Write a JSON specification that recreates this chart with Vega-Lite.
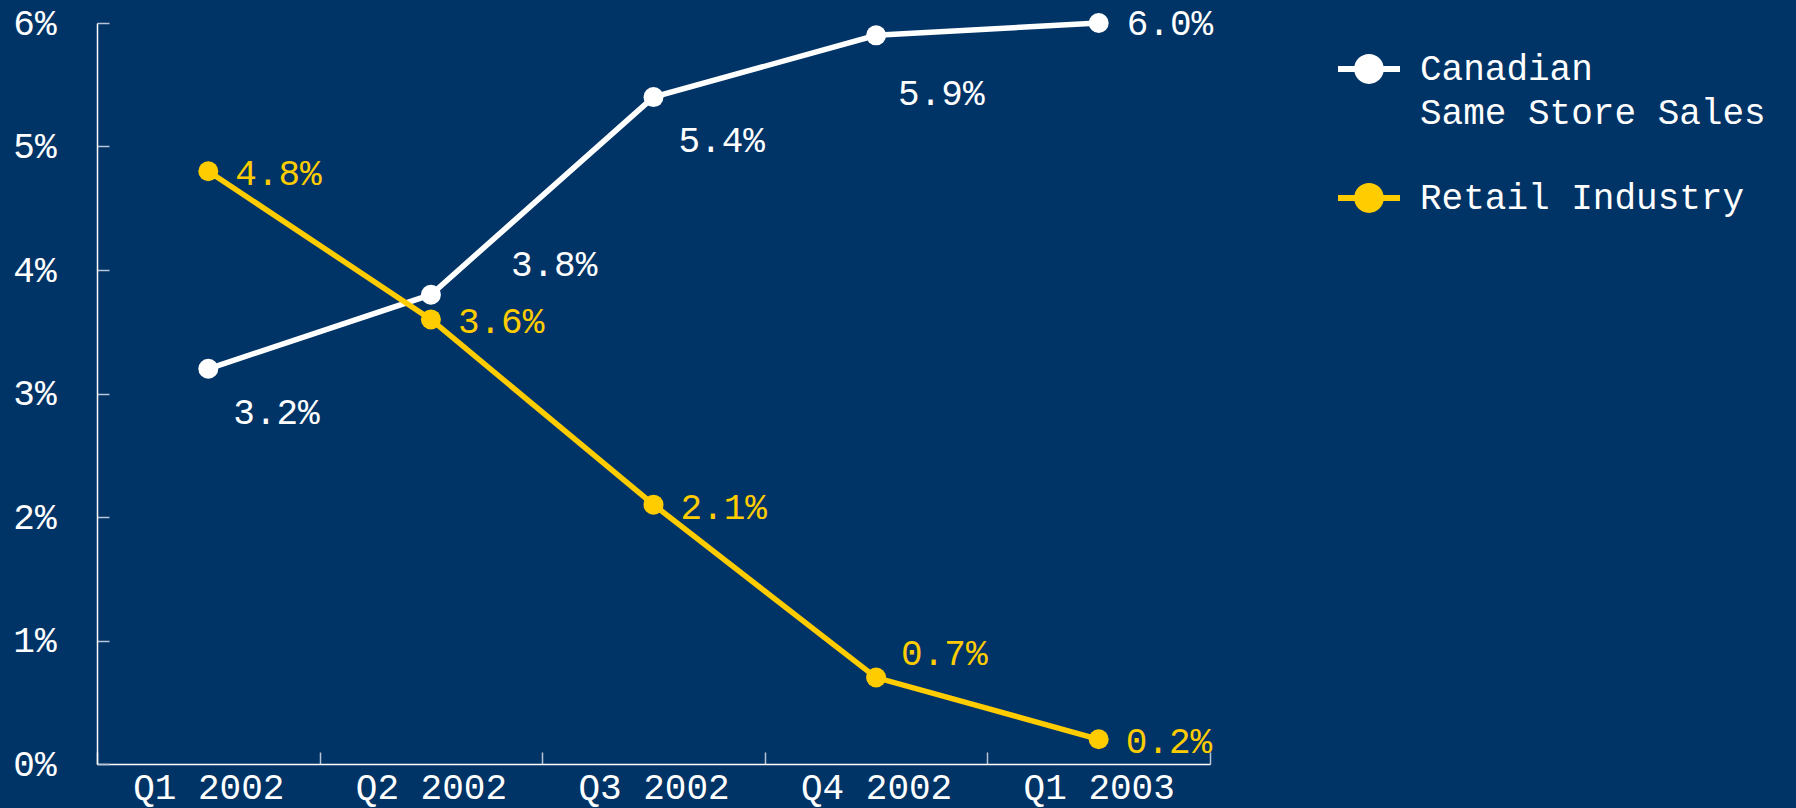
{
  "$schema": "https://vega.github.io/schema/vega-lite/v6.json",
  "width": 1113,
  "height": 741,
  "autosize": {"type": "none"},
  "padding": {"left": 97, "top": 23, "right": 586, "bottom": 44},
  "background": "#003366",
  "data": {
    "values": [
      {"quarter": "Q1 2002", "series": "Canadian Same Store Sales", "value": 0.032},
      {"quarter": "Q2 2002", "series": "Canadian Same Store Sales", "value": 0.038},
      {"quarter": "Q3 2002", "series": "Canadian Same Store Sales", "value": 0.054},
      {"quarter": "Q4 2002", "series": "Canadian Same Store Sales", "value": 0.059},
      {"quarter": "Q1 2003", "series": "Canadian Same Store Sales", "value": 0.060},
      {"quarter": "Q1 2002", "series": "Retail Industry", "value": 0.048},
      {"quarter": "Q2 2002", "series": "Retail Industry", "value": 0.036},
      {"quarter": "Q3 2002", "series": "Retail Industry", "value": 0.021},
      {"quarter": "Q4 2002", "series": "Retail Industry", "value": 0.007},
      {"quarter": "Q1 2003", "series": "Retail Industry", "value": 0.002}
    ]
  },
  "encoding": {
    "x": {
      "field": "quarter",
      "type": "ordinal",
      "sort": ["Q1 2002", "Q2 2002", "Q3 2002", "Q4 2002", "Q1 2003"],
      "scale": {"type": "band", "paddingInner": 0, "paddingOuter": 0},
      "bandPosition": 0.5,
      "axis": {
        "title": null,
        "labelAngle": 0,
        "tickBand": "extent",
        "tickSize": -12,
        "labelPadding": 18
      }
    },
    "y": {
      "field": "value",
      "type": "quantitative",
      "scale": {"domain": [0, 0.06]},
      "axis": {
        "title": null,
        "values": [0, 0.01, 0.02, 0.03, 0.04, 0.05, 0.06],
        "format": ".0%",
        "tickSize": -12,
        "labelPadding": 53
      }
    }
  },
  "layer": [
    {
      "mark": {"type": "line", "strokeWidth": 5.5},
      "encoding": {
        "color": {
          "field": "series",
          "type": "nominal",
          "scale": {"domain": ["Canadian Same Store Sales", "Retail Industry"], "range": ["#ffffff", "#ffcc00"]},
          "legend": {
            "title": null,
            "orient": "none",
            "legendX": 1241,
            "legendY": 15,
            "padding": 0,
            "rowPadding": 36,
            "symbolType": "M-1,-0.1L1,-0.1L1,0.1L-1,0.1Z M-0.48,0A0.48,0.48,0,1,1,0.48,0A0.48,0.48,0,1,1,-0.48,0Z",
            "symbolSize": 3844,
            "symbolStrokeWidth": 0,
            "labelOffset": 20,
            "labelFont": "Liberation Mono",
            "labelFontSize": 36,
            "labelColor": "#ffffff",
            "labelLimit": 600,
            "labelBaseline": "middle",
            "labelExpr": "datum.label == 'Canadian Same Store Sales' ? ['Canadian', 'Same Store Sales'] : datum.label",
            "encode": {
              "symbols": {
                "update": {
                  "fill": {"scale": "color", "field": "value"},
                  "stroke": {"value": "transparent"},
                  "strokeWidth": {"value": 0},
                  "opacity": {"value": 1}
                }
              },
              "labels": {
                "update": {
                  "lineHeight": {"value": 44}
                }
              }
            }
          }
        }
      }
    },
    {
      "mark": {"type": "point", "filled": true, "size": 400, "opacity": 1},
      "encoding": {
        "color": {"field": "series", "type": "nominal", "legend": null}
      }
    },
    {
      "transform": [{"filter": "datum.series == 'Canadian Same Store Sales' && (datum.quarter == 'Q1 2002' || datum.quarter == 'Q3 2002')"}],
      "mark": {"type": "text", "align": "left", "baseline": "middle", "dx": 25, "dy": 44, "font": "Liberation Mono", "fontSize": 36, "color": "#ffffff"},
      "encoding": {"text": {"field": "value", "format": ".1%"}}
    },
    {
      "transform": [{"filter": "datum.series == 'Canadian Same Store Sales' && datum.quarter == 'Q2 2002'"}],
      "mark": {"type": "text", "align": "left", "baseline": "middle", "dx": 80, "dy": -30, "font": "Liberation Mono", "fontSize": 36, "color": "#ffffff"},
      "encoding": {"text": {"field": "value", "format": ".1%"}}
    },
    {
      "transform": [{"filter": "datum.series == 'Canadian Same Store Sales' && datum.quarter == 'Q4 2002'"}],
      "mark": {"type": "text", "align": "left", "baseline": "middle", "dx": 22, "dy": 59, "font": "Liberation Mono", "fontSize": 36, "color": "#ffffff"},
      "encoding": {"text": {"field": "value", "format": ".1%"}}
    },
    {
      "transform": [{"filter": "datum.series == 'Canadian Same Store Sales' && datum.quarter == 'Q1 2003'"}],
      "mark": {"type": "text", "align": "left", "baseline": "middle", "dx": 28, "dy": 1, "font": "Liberation Mono", "fontSize": 36, "color": "#ffffff"},
      "encoding": {"text": {"field": "value", "format": ".1%"}}
    },
    {
      "transform": [{"filter": "datum.series == 'Retail Industry' && datum.quarter != 'Q4 2002'"}],
      "mark": {"type": "text", "align": "left", "baseline": "middle", "dx": 27, "dy": 3, "font": "Liberation Mono", "fontSize": 36, "color": "#ffcc00"},
      "encoding": {"text": {"field": "value", "format": ".1%"}}
    },
    {
      "transform": [{"filter": "datum.series == 'Retail Industry' && datum.quarter == 'Q4 2002'"}],
      "mark": {"type": "text", "align": "left", "baseline": "middle", "dx": 25, "dy": -24, "font": "Liberation Mono", "fontSize": 36, "color": "#ffcc00"},
      "encoding": {"text": {"field": "value", "format": ".1%"}}
    }
  ],
  "config": {
    "view": {"stroke": null},
    "axis": {
      "grid": false,
      "labelFont": "Liberation Mono",
      "labelFontSize": 36,
      "labelColor": "#ffffff",
      "domainColor": "#ffffff",
      "domainWidth": 1.5,
      "tickColor": "#b8c4d6",
      "tickWidth": 1.5
    }
  }
}
